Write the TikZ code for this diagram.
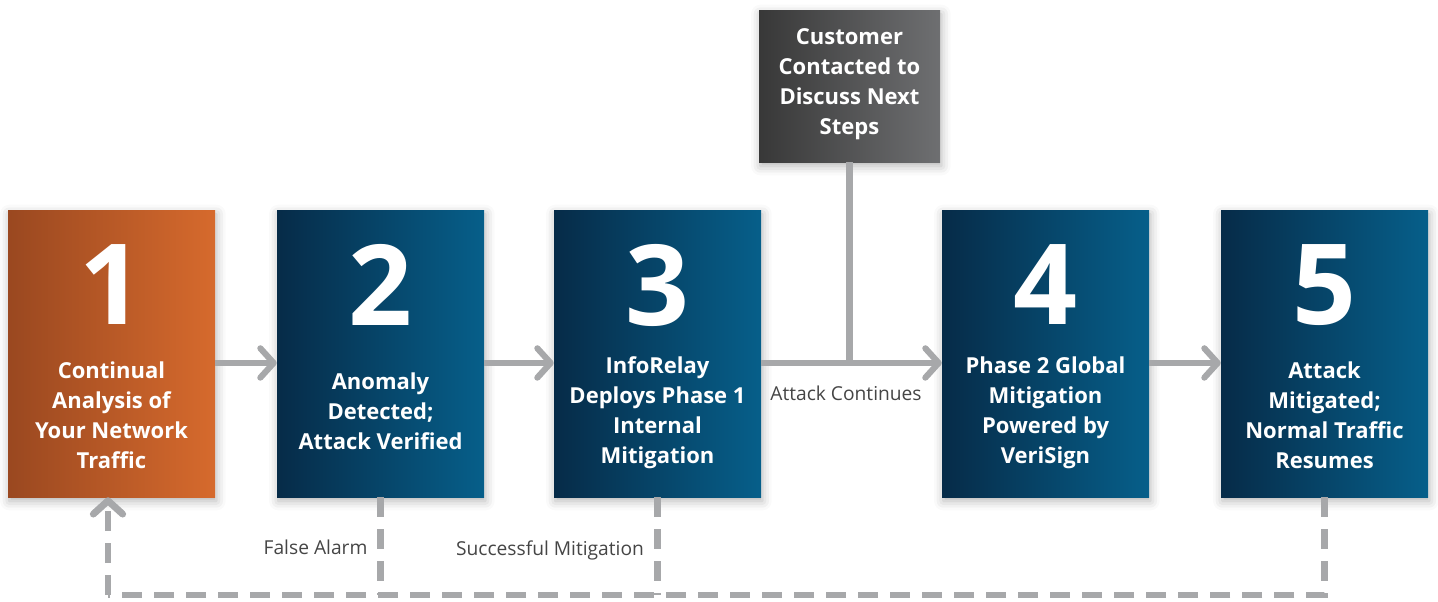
\documentclass[tikz,border=0pt]{standalone}
\usepackage{fontspec}
\setmainfont{Open Sans}
\usetikzlibrary{arrows.meta,shadows.blur}

\definecolor{flowgray}{HTML}{A7A8AA}
\definecolor{orangeL}{HTML}{9A4820}
\definecolor{orangeR}{HTML}{D66A2D}
\definecolor{blueL}{HTML}{062B48}
\definecolor{blueR}{HTML}{065F8A}
\definecolor{grayL}{HTML}{383838}
\definecolor{grayR}{HTML}{6E6F71}
\definecolor{labelgray}{HTML}{454545}

\tikzset{
  boxshadow/.style={blur shadow={shadow xshift=1pt, shadow yshift=-3pt,
      shadow blur radius=7pt, shadow opacity=30}},
  stepbox/.style={rectangle, inner sep=0pt, minimum width=155.25pt,
      minimum height=215.25pt, boxshadow},
  orangebox/.style={stepbox, left color=orangeL, right color=orangeR},
  bluebox/.style={stepbox, left color=blueL, right color=blueR},
  topbox/.style={rectangle, inner sep=0pt, minimum width=135.75pt,
      minimum height=114pt, left color=grayL, right color=grayR, boxshadow},
  bignum/.style={text=white, inner sep=0pt, font=\fontsize{84}{84}\selectfont\bfseries},
  boxtext/.style={text=white, align=center, inner sep=0pt,
      font=\fontsize{16.5}{22.5}\selectfont\bfseries},
  flowlabel/.style={text=labelgray, inner sep=1pt, font=\fontsize{14.4}{17}\selectfont},
  flow/.style={draw=flowgray, line width=4.6pt,
      -{Straight Barb[length=10pt,width=22pt,round]}},
  plainflow/.style={draw=flowgray, line width=4.6pt},
  dashflow/.style={draw=flowgray, line width=5.2pt, dash pattern=on 15pt off 9pt},
}

\begin{document}
\begin{tikzpicture}[x=0.75pt, y=-0.75pt]
  \useasboundingbox (0,0) rectangle (1438,601);

  % step boxes
  \node[orangebox] (b1) at (111.5,353.5) {};
  \node[bluebox]   (b2) at (380.5,353.5) {};
  \node[bluebox]   (b3) at (657.5,353.5) {};
  \node[bluebox]   (b4) at (1045.5,353.5) {};
  \node[bluebox]   (b5) at (1324.5,353.5) {};
  \node[topbox]    (t)  at (849.5,86) {};

  % numbers
  \node[bignum] (n1) at (111.5,285) {1};
  \node[bignum] (n2) at (380.5,285) {2};
  \node[bignum] (n3) at (657.5,285) {3};
  \node[bignum] (n4) at (1045.5,285) {4};
  \node[bignum] (n5) at (1324.5,285) {5};

  % captions
  \node[boxtext] (c1t) at (111.5,415) {Continual\\Analysis of\\Your Network\\Traffic};
  \node[boxtext] (c2t) at (380.5,411) {Anomaly\\Detected;\\Attack Verified};
  \node[boxtext] (c3t) at (657.5,413) {InfoRelay\\Deploys Phase 1\\Internal\\Mitigation};
  \node[boxtext] (c4t) at (1045.5,413) {Phase 2 Global\\Mitigation\\Powered by\\VeriSign};
  \node[boxtext] (c5t) at (1324.5,415) {Attack\\Mitigated;\\Normal Traffic\\Resumes};
  \node[boxtext] (ctt) at (849.5,84) {Customer\\Contacted to\\Discuss Next\\Steps};

  % main flow
  \coordinate (j) at ([yshift=-7.1pt]b3.east);
  \draw[flow] ([yshift=-7.1pt]b1.east) -- ([yshift=-7.1pt]b2.west);
  \draw[flow] ([yshift=-7.1pt]b2.east) -- ([yshift=-7.1pt]b3.west);
  \draw[flow] (j) -- ([yshift=-7.1pt]b4.west);
  \draw[flow] ([yshift=-7.1pt]b4.east) -- ([yshift=-7.1pt]b5.west);
  \draw[plainflow] (t.south) -- (t.south |- j);

  % return paths
  \coordinate (r1) at (108,595);
  \draw[dashflow] (b5.south) -- (b5.south |- r1) -- (r1);
  \draw[dashflow, -{Straight Barb[length=10pt,width=22pt,round]}]
    (r1) -- (r1 |- b1.south);
  \draw[dashflow] (b2.south) -- (b2.south |- r1);
  \draw[dashflow] (b3.south) -- (b3.south |- r1);

  % path labels
  \node[flowlabel] (l1) at (846,393) {Attack Continues};
  \node[flowlabel, anchor=east] (l2) at (369,547) {False Alarm};
  \node[flowlabel] (l3) at (550,550) {Successful Mitigation};
\end{tikzpicture}
\end{document}
